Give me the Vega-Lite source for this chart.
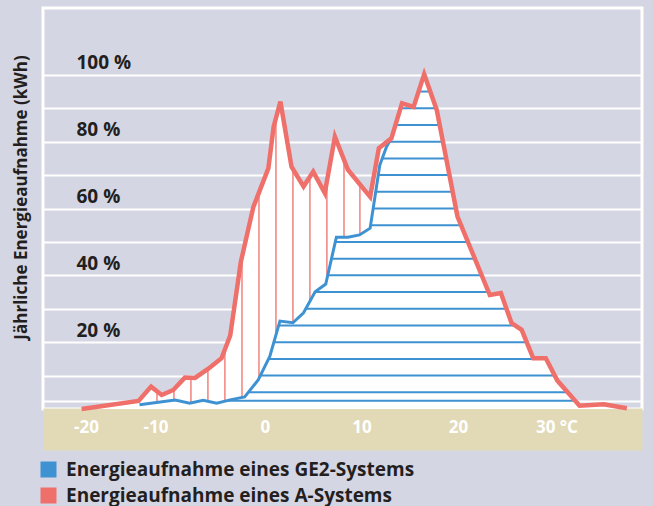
{
  "$schema": "https://vega.github.io/schema/vega-lite/v6.json",
  "width": 599,
  "height": 401,
  "autosize": "none",
  "padding": {"left": 43, "top": 8, "right": 11, "bottom": 97},
  "background": "#d5d6e3",
  "config": {
    "font": "Open Sans",
    "view": {"stroke": "#ffffff", "strokeWidth": 3}
  },
  "resolve": {"axis": {"x": "independent"}},
  "datasets": {
    "a": [
      {"t": -19.0, "v": 0}, {"t": -13.1, "v": 2.4}, {"t": -11.8, "v": 6.7}, {"t": -10.7, "v": 4.2},
      {"t": -9.5, "v": 5.7}, {"t": -8.3, "v": 9.4}, {"t": -7.25, "v": 9.3}, {"t": -5.9, "v": 12.0},
      {"t": -4.5, "v": 15.2}, {"t": -3.6, "v": 22}, {"t": -2.5, "v": 44}, {"t": -1.2, "v": 60.5},
      {"t": 0.35, "v": 72}, {"t": 0.9, "v": 84.5}, {"t": 1.6, "v": 92}, {"t": 2.75, "v": 72.5},
      {"t": 4.0, "v": 66.6}, {"t": 5.0, "v": 71}, {"t": 6.2, "v": 64.6}, {"t": 7.25, "v": 81.5},
      {"t": 8.6, "v": 71.6}, {"t": 10.9, "v": 63.5}, {"t": 11.8, "v": 78}, {"t": 13.1, "v": 81},
      {"t": 14.2, "v": 91.5}, {"t": 15.4, "v": 90.4}, {"t": 16.5, "v": 100.2}, {"t": 17.8, "v": 89.5},
      {"t": 19.95, "v": 57.6}, {"t": 23.3, "v": 34.1}, {"t": 24.45, "v": 34.7}, {"t": 25.55, "v": 25.7},
      {"t": 26.6, "v": 23.7}, {"t": 27.8, "v": 15.2}, {"t": 29.1, "v": 15.2}, {"t": 30.3, "v": 8.5},
      {"t": 32.6, "v": 1.0}, {"t": 35.1, "v": 1.4}, {"t": 37.5, "v": 0.2}
    ],
    "ge2": [
      {"t": -13.0, "v": 1.3}, {"t": -9.3, "v": 2.7}, {"t": -7.8, "v": 1.7}, {"t": -6.4, "v": 2.6},
      {"t": -5.0, "v": 1.7}, {"t": -3.5, "v": 2.8}, {"t": -2.1, "v": 3.6}, {"t": -0.7, "v": 8.7},
      {"t": 0.5, "v": 15.7}, {"t": 1.55, "v": 26.3}, {"t": 2.9, "v": 25.8}, {"t": 4.0, "v": 28.8},
      {"t": 5.2, "v": 35.1}, {"t": 6.3, "v": 37.4}, {"t": 7.4, "v": 51.4}, {"t": 8.6, "v": 51.4},
      {"t": 9.8, "v": 52.1}, {"t": 10.9, "v": 54.1}, {"t": 11.9, "v": 73}, {"t": 12.6, "v": 78.5},
      {"t": 13.1, "v": 81}
    ],
    "raster": [
      {"level": 2.5, "t0": -3.91, "t1": 32.12}, {"level": 5, "t0": -1.72, "t1": 31.36},
      {"level": 10, "t0": -0.48, "t1": 30.03}, {"level": 15, "t0": 0.38, "t1": 29.14},
      {"level": 20, "t0": 0.93, "t1": 27.12}, {"level": 25, "t0": 1.42, "t1": 25.92},
      {"level": 30, "t0": 4.23, "t1": 25.02}, {"level": 35, "t0": 5.18, "t1": 23.17},
      {"level": 40, "t0": 6.5, "t1": 22.46}, {"level": 45, "t0": 6.9, "t1": 21.75},
      {"level": 50, "t0": 7.29, "t1": 21.03}, {"level": 55, "t0": 10.95, "t1": 20.32},
      {"level": 60, "t0": 11.21, "t1": 19.79}, {"level": 65, "t0": 11.48, "t1": 19.45},
      {"level": 70, "t0": 11.74, "t1": 19.11}, {"level": 75, "t0": 12.15, "t1": 18.78},
      {"level": 80, "t0": 12.9, "t1": 18.44}, {"level": 85, "t0": 13.52, "t1": 18.1},
      {"level": 90, "t0": 14.04, "t1": 17.74}, {"level": 95, "t0": 15.92, "t1": 17.13}
    ],
    "senkrecht": [
      {"t": -11.19, "lo": 1.98, "hi": 5.31}, {"t": -9.43, "lo": 2.65, "hi": 5.92},
      {"t": -7.67, "lo": 1.78, "hi": 9.34}, {"t": -5.91, "lo": 2.29, "hi": 11.98},
      {"t": -4.15, "lo": 2.32, "hi": 17.84}, {"t": -2.38, "lo": 3.44, "hi": 45.52},
      {"t": -0.62, "lo": 9.17, "hi": 64.8}, {"t": 1.14, "lo": 22.16, "hi": 87.07},
      {"t": 2.9, "lo": 25.8, "hi": 71.79}, {"t": 4.66, "lo": 32.27, "hi": 69.5},
      {"t": 6.42, "lo": 38.93, "hi": 68.14}, {"t": 8.19, "lo": 51.4, "hi": 74.61},
      {"t": 9.84, "lo": 52.17, "hi": 67.23}
    ]
  },
  "layer": [
    {
      "data": {"name": "a"},
      "mark": {"type": "area", "fill": "#ffffff", "opacity": 1},
      "encoding": {
        "x": {
          "field": "t", "type": "quantitative",
          "scale": {"domain": [-23, 39.07], "nice": false, "zero": false},
          "axis": {
            "orient": "bottom", "title": null, "labels": false,
            "grid": false, "ticks": false, "tickSize": 0,
            "domain": true, "domainColor": "#e2d9b7", "domainWidth": 42, "domainCap": "butt",
            "offset": 20, "zindex": 0
          }
        },
        "y": {
          "field": "v", "type": "quantitative",
          "scale": {"domain": [0, 120], "nice": false},
          "axis": {
            "title": "Jährliche Energieaufnahme (kWh)",
            "titleFontSize": 17, "titleFontWeight": "bold", "titleColor": "#231f20",
            "titleX": -22, "titleY": 189, "titleAngle": -90, "titleAlign": "center", "titleBaseline": "middle",
            "values": [2.5, 5, 10, 15, 20, 25, 30, 35, 40, 45, 50, 55, 60, 65, 70, 75, 80, 85, 90, 95, 100],
            "grid": true, "gridColor": "#ffffff", "gridWidth": 2, "gridOpacity": 1,
            "domain": false, "ticks": false, "tickSize": 0,
            "labelExpr": "datum.value % 20 === 0 ? datum.value + ' %' : ''",
            "labelAlign": "left", "labelBaseline": "middle", "labelPadding": -33, "labelOffset": -12,
            "labelFontSize": 19, "labelFontWeight": "bold", "labelColor": "#231f20",
            "labelOverlap": false, "labelFlush": false
          }
        },
        "y2": {"datum": 0}
      }
    },
    {
      "data": {"name": "raster"},
      "mark": {"type": "rule", "color": "#3f92d2", "strokeWidth": 2},
      "encoding": {
        "x": {
          "field": "t0", "type": "quantitative",
          "axis": {
            "orient": "bottom", "title": null,
            "values": [-20, -10, 0, 10, 20, 30],
            "labelExpr": "datum.value === 30 ? '30 °C' : '' + datum.value",
            "grid": false, "ticks": false, "tickSize": 0, "domain": false,
            "offset": 20, "zindex": 1,
            "labelBaseline": "middle", "labelPadding": -2,
            "labelOffset": {"condition": [{"test": "datum.value === -20", "value": 14}, {"test": "datum.value === -10", "value": -13}, {"test": "datum.value === 30", "value": 2}], "value": 0},
            "labelFontSize": 17, "labelFontWeight": "bold", "labelColor": "#ffffff",
            "labelFlush": false, "labelOverlap": false
          }
        },
        "x2": {"field": "t1"},
        "y": {"field": "level", "type": "quantitative"}
      }
    },
    {
      "data": {"name": "senkrecht"},
      "mark": {"type": "rule", "color": "#ef6f6a", "strokeWidth": 1.3},
      "encoding": {
        "x": {"field": "t", "type": "quantitative", "axis": null},
        "y": {"field": "lo", "type": "quantitative"},
        "y2": {"field": "hi"}
      }
    },
    {
      "data": {"name": "ge2"},
      "mark": {"type": "line", "strokeWidth": 3},
      "encoding": {
        "x": {"field": "t", "type": "quantitative", "axis": null},
        "y": {"field": "v", "type": "quantitative"},
        "color": {
          "datum": "Energieaufnahme eines GE2-Systems", "type": "nominal",
          "scale": {"domain": ["Energieaufnahme eines GE2-Systems", "Energieaufnahme eines A-Systems"], "range": ["#3f92d2", "#ef6f6a"]},
          "legend": {
            "title": null, "orient": "none", "legendX": -4, "legendY": 452, "direction": "vertical",
            "symbolType": "square", "symbolSize": 256, "symbolStrokeWidth": 0,
            "labelFontSize": 19, "labelFontWeight": "bold", "labelColor": "#231f20",
            "labelOffset": 8, "rowPadding": 6, "padding": 0, "labelLimit": 0,
            "encode": {"symbols": {"update": {"fill": {"scale": "color", "field": "value"}, "fillOpacity": {"value": 1}, "stroke": {"value": "transparent"}}}}
          }
        }
      }
    },
    {
      "data": {"name": "a"},
      "mark": {"type": "line", "strokeWidth": 4.5},
      "encoding": {
        "x": {"field": "t", "type": "quantitative", "axis": null},
        "y": {"field": "v", "type": "quantitative"},
        "color": {"datum": "Energieaufnahme eines A-Systems", "type": "nominal"}
      }
    }
  ]
}
